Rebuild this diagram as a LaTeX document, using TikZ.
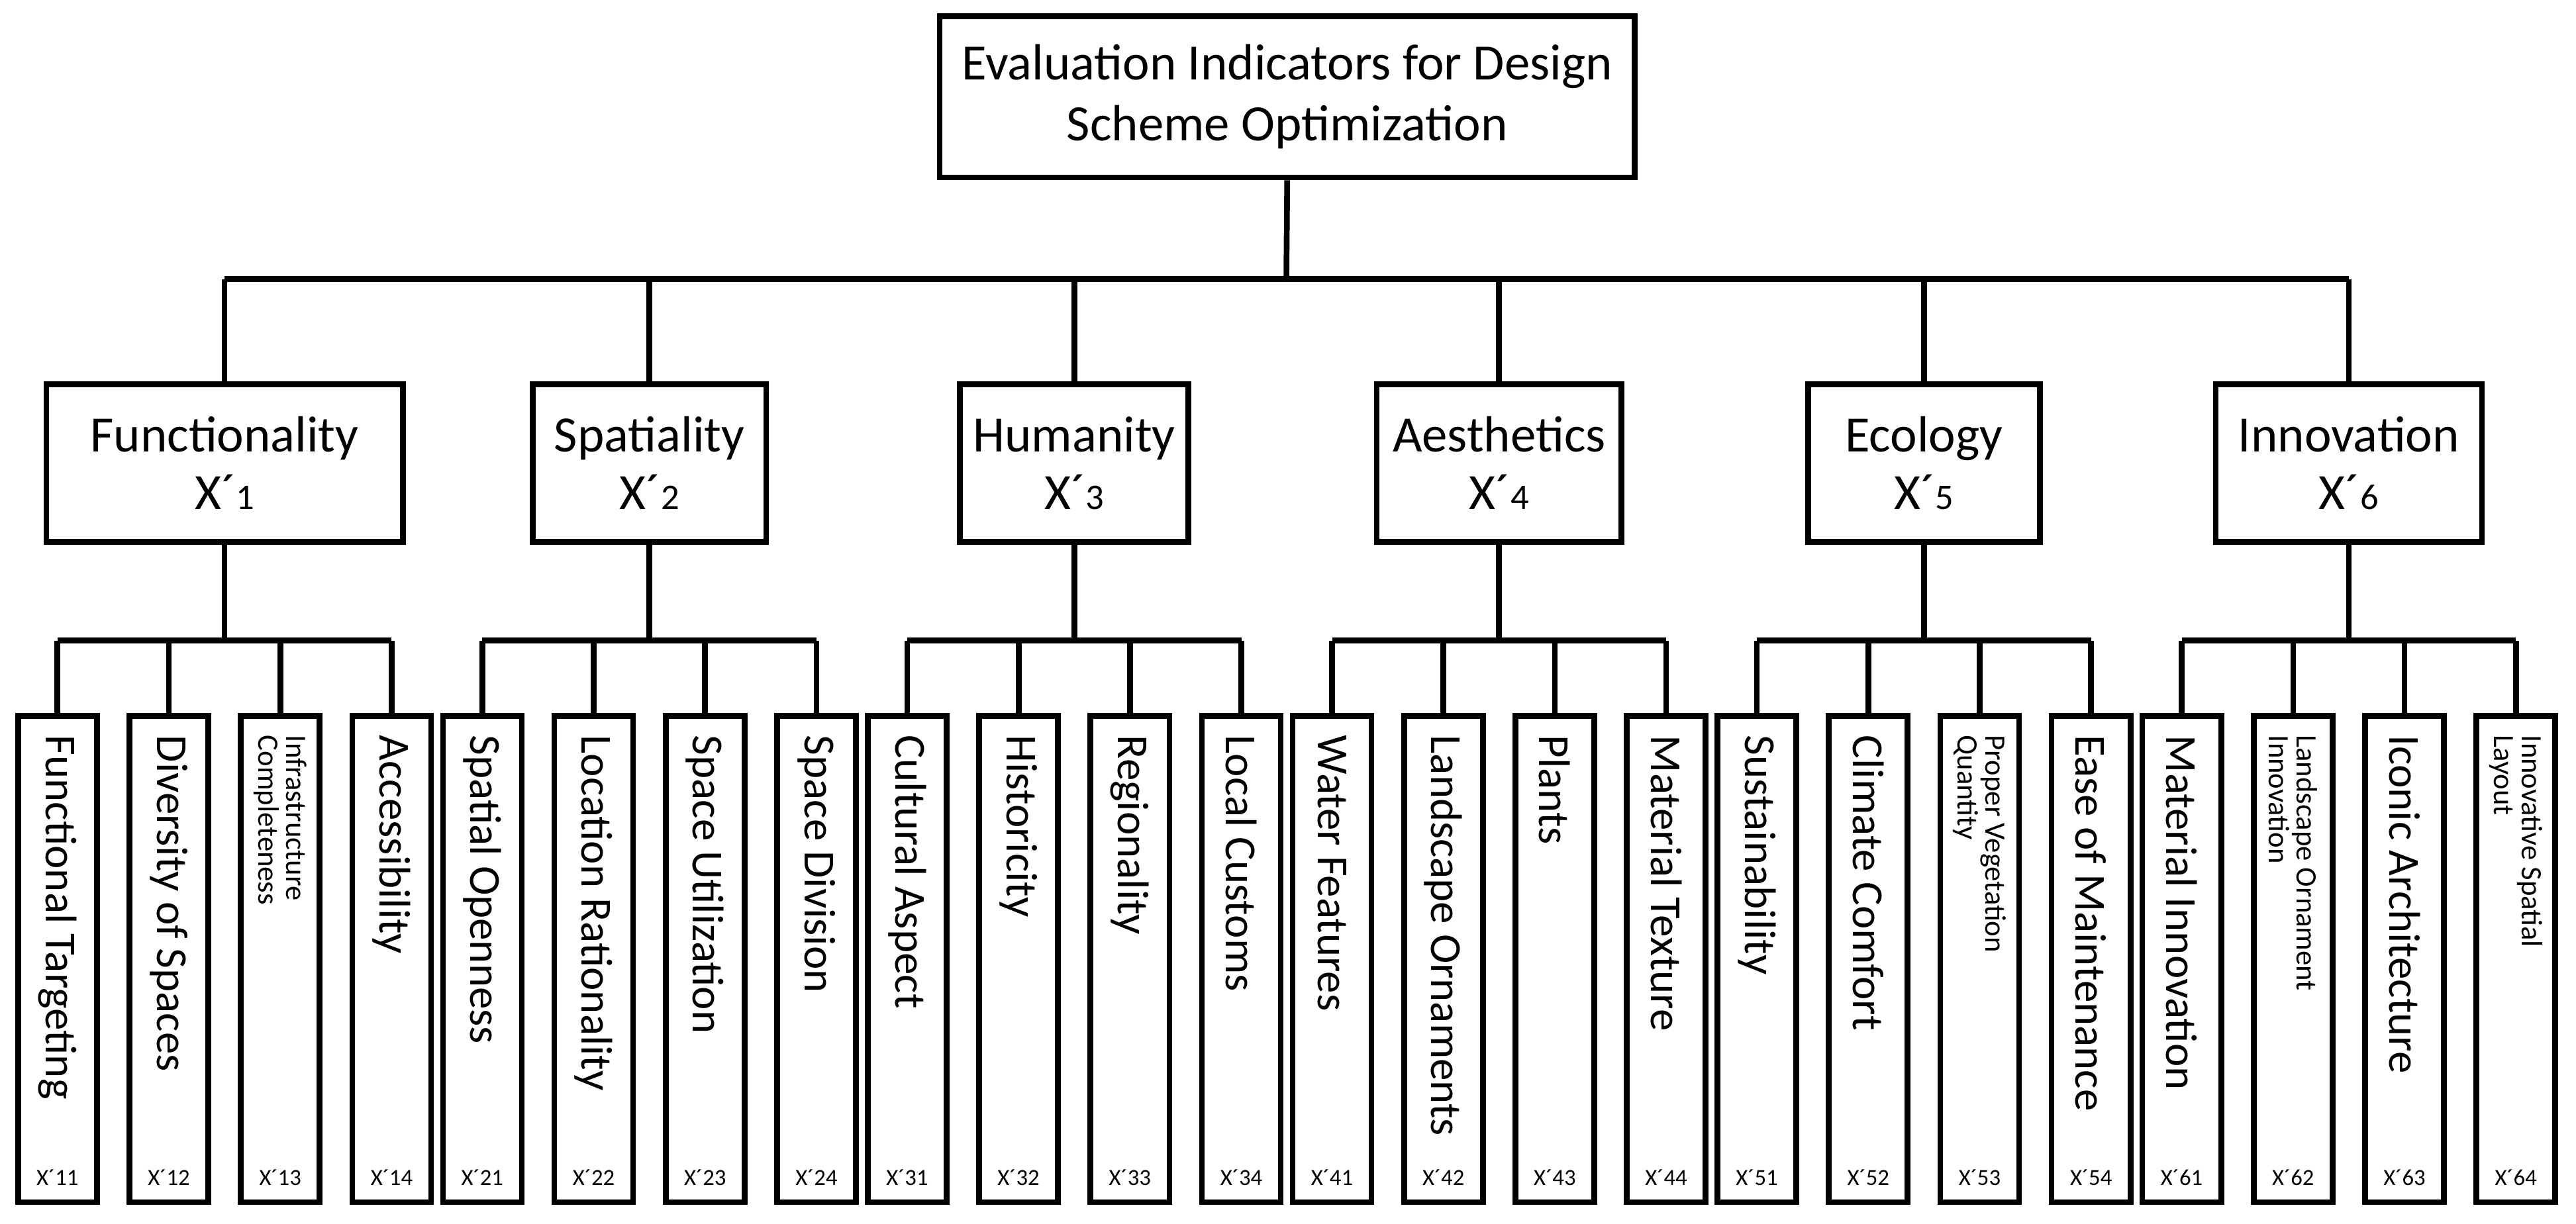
\documentclass[tikz,border=0pt]{standalone}
\usepackage{fontspec}
\setmainfont{Carlito}
\begin{document}
\begin{tikzpicture}[x=1pt,y=-1pt,line width=3.5pt,
  box/.style={draw,fill=white,inner sep=0pt},
  leaf/.style={box,minimum width=48pt,minimum height=296pt},
  big/.style={font=\fontsize{31}{37}\selectfont},
  lt/.style={rotate=-90,anchor=west,inner sep=0pt,font=\fontsize{27}{29}\selectfont},
  lt2/.style={rotate=-90,anchor=west,inner sep=0pt,align=left,font=\fontsize{18}{17}\selectfont},
  code/.style={font=\fontsize{14}{15}\selectfont,inner sep=0pt}]
\useasboundingbox (0,0) rectangle (1568,745);
\node[box,big,minimum width=423pt,minimum height=98pt,align=center] (root) at (783.5,59) {Evaluation Indicators for Design\\Scheme Optimization};
\coordinate (rb) at (783,170);
\def\mids{{"Functionality","Spatiality","Humanity","Aesthetics","Ecology","Innovation"}}
\def\widths{{217,142,139,149,141,162}}
\def\leaves{{"Functional Targeting","Diversity of Spaces","Infrastructure\\Completeness","Accessibility",
"Spatial Openness","Location Rationality","Space Utilization","Space Division",
"Cultural Aspect","Historicity","Regionality","Local Customs",
"Water Features","Landscape Ornaments","Plants","Material Texture",
"Sustainability","Climate Comfort","Proper Vegetation\\Quantity","Ease of Maintenance",
"Material Innovation","Landscape Ornament\\Innovation","Iconic Architecture","Innovative Spatial\\Layout"}}
\draw (root.south) -- (rb);
\foreach \g in {0,...,5}{
  \pgfmathsetmacro{\cx}{35+258.6*\g+1.5*67.8}
  \pgfmathsetmacro{\mw}{\widths[\g]}
  \pgfmathsetmacro{\mn}{\mids[\g]}
  \pgfmathtruncatemacro{\gi}{\g+1}
  \coordinate (t\g) at (\cx,170);
  \node[box,big,minimum width=\mw pt,minimum height=96pt,align=center] (m\g) at (\cx,282)
    {\mn\\[-2pt]X´{\fontsize{22}{24}\selectfont\gi}};
  \draw (t\g) -- (m\g.north);
  \coordinate (s\g) at (\cx,390);
  \draw (m\g.south) -- (s\g);
  \foreach \k in {0,...,3}{
    \pgfmathsetmacro{\lx}{35+258.6*\g+67.8*\k}
    \pgfmathtruncatemacro{\idx}{4*\g+\k}
    \pgfmathtruncatemacro{\ki}{\k+1}
    \pgfmathsetmacro{\ln}{\leaves[\idx]}
    \coordinate (b\g\k) at (\lx,390);
    \node[leaf] (l\g\k) at (\lx,584) {};
    \draw (b\g\k) -- (l\g\k.north);
    \node[code] at (\lx,717) {X´\gi\ki};
    \ifnum\k=2 \ifnum\g=0 \def\st{lt2}\else\ifnum\g=4 \def\st{lt2}\else\def\st{lt}\fi\fi\else\def\st{lt}\fi
    \ifnum\g=5 \ifnum\k=1 \def\st{lt2}\fi \ifnum\k=3 \def\st{lt2}\fi\fi
    \node[\st] at (\lx,446) {\ln};
  }
  \draw (b\g0) -- (b\g3);
}
\draw (t0) -- (t5);
\end{tikzpicture}
\end{document}
